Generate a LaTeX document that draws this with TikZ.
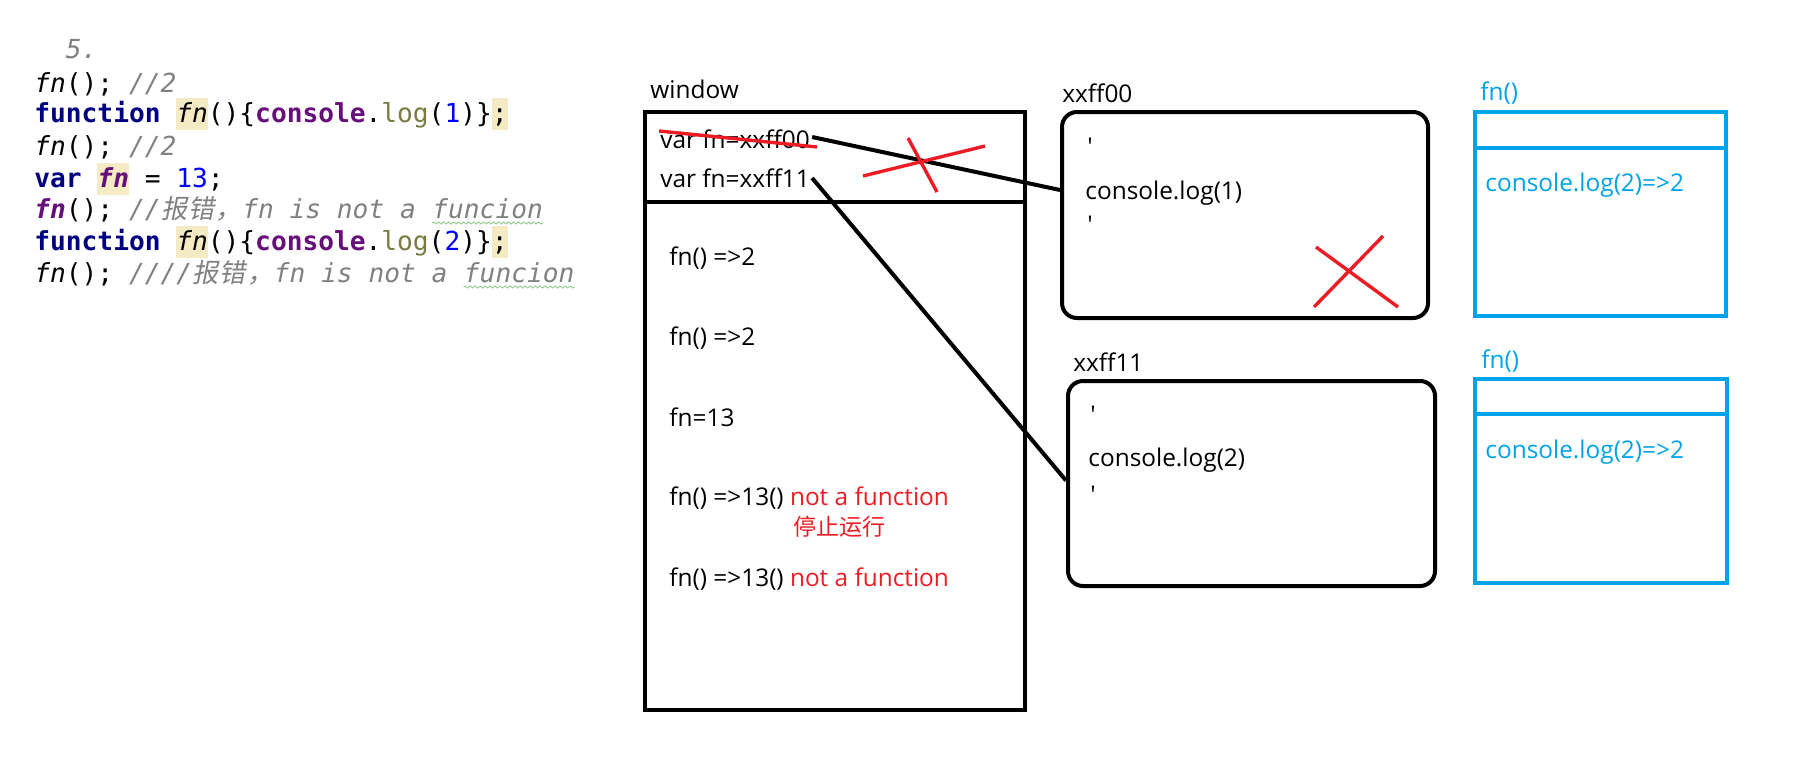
\documentclass[tikz,border=0pt]{standalone}
\usepackage{fontspec}
\usetikzlibrary{decorations.pathmorphing}
\setmainfont{Open Sans}
\newfontfamily\codefont{DejaVu Sans Mono}
\newfontfamily\cjk{Noto Sans CJK SC}
\newfontfamily\cjkit[FakeSlant=0.2]{Noto Sans CJK SC}
\definecolor{kw}{HTML}{000080}
\definecolor{pu}{HTML}{660E7A}
\definecolor{ol}{HTML}{7A7A43}
\definecolor{nb}{HTML}{0000FF}
\definecolor{cm}{HTML}{808080}
\definecolor{hl}{HTML}{F4EAC4}
\definecolor{sq}{HTML}{9ACD9A}
\definecolor{pred}{HTML}{ED1C24}
\definecolor{pblue}{HTML}{00A2E8}
\newcommand{\hlbox}[1]{{\setlength{\fboxsep}{0pt}\colorbox{hl}{\rule[-4pt]{0pt}{16pt}#1}}}
\newcommand{\cj}[1]{\makebox[1.04em][c]{\cjkit #1}}
\tikzset{
  codeline/.style={anchor=base west, inner sep=0pt, font=\codefont\fontsize{13.1pt}{16pt}\selectfont},
  lbl/.style={anchor=west, inner sep=0pt, font=\fontsize{12.2pt}{14pt}\selectfont},
  blbl/.style={lbl, text=pblue},
  memline/.style={line width=2pt},
  membox/.style={draw, line width=2pt, rounded corners=7.5pt},
  fnbox/.style={draw=pblue, line width=2pt},
  cross/.style={draw=pred, line width=1.7pt},
  squig/.style={draw=sq, line width=0.5pt, decorate, decoration={snake, amplitude=0.5pt, segment length=2.5pt}}
}
\begin{document}
\begin{tikzpicture}[x=0.5pt, y=-0.5pt]
\useasboundingbox (0,0) rectangle (1802,756);
% ---------- code ----------
\node[codeline] (c0) at (34,58) {\ \ \textcolor{cm}{\textit{5.}}};
\node[codeline] (c1) at (34,92) {\textit{fn}();\ \textcolor{cm}{\textit{//2}}};
\node[codeline] (c2) at (34,122) {\textcolor{kw}{\textbf{function}}\ \hlbox{\textit{fn}}()\{\textcolor{pu}{\textbf{console}}.\textcolor{ol}{log}(\textcolor{nb}{1})\}\hlbox{;}};
\node[codeline] (c3) at (34,155) {\textit{fn}();\ \textcolor{cm}{\textit{//2}}};
\node[codeline] (c4) at (34,187) {\textcolor{kw}{\textbf{var}}\ \hlbox{\textcolor{pu}{\textbf{\textit{fn}}}}\ =\ \textcolor{nb}{13};};
\node[codeline] (c5) at (34,218) {\textcolor{pu}{\textbf{\textit{fn}}}();\ \textcolor{cm}{\textit{//\cj{报}\cj{错}\cj{，}fn is not a\ }}};
\node[codeline, text=cm] (c5u) at (c5.base east) {\textit{funcion}};
\node[codeline] (c6) at (34,250) {\textcolor{kw}{\textbf{function}}\ \hlbox{\textit{fn}}()\{\textcolor{pu}{\textbf{console}}.\textcolor{ol}{log}(\textcolor{nb}{2})\}\hlbox{;}};
\node[codeline] (c7) at (34,282) {\textit{fn}();\ \textcolor{cm}{\textit{////\cj{报}\cj{错}\cj{，}fn is not a\ }}};
\node[codeline, text=cm] (c7u) at (c7.base east) {\textit{funcion}};
\draw[squig] ([yshift=-2.5pt]c5u.base west) -- ([yshift=-2.5pt]c5u.base east);
\draw[squig] ([yshift=-2.5pt]c7u.base west) -- ([yshift=-2.5pt]c7u.base east);
% ---------- window ----------
\node[lbl] (wl) at (650,89) {window};
\node[draw, line width=2pt, minimum width=190pt, minimum height=299pt, inner sep=0pt] (win) at (835,411) {};
\draw[memline] ([yshift=-46pt]win.north west) -- ([yshift=-46pt]win.north east);
\node[lbl] (v00) at (660,139) {var fn=xxff00};
\node[lbl] (v11) at (660,178) {var fn=xxff11};
\node[lbl] (w1) at (669,258) {fn() =>2};
\node[lbl] (w2) at (669,338) {fn() =>2};
\node[lbl] (w3) at (669,417) {fn=13};
\node[lbl] (w4) at (669,498) {fn() =>13() \textcolor{pred}{not a function}};
\node[lbl, text=pred, font=\cjk\fontsize{11.5pt}{14pt}\selectfont] (w4b) at (793,527) {停止运行};
\node[lbl] (w5) at (669,579) {fn() =>13() \textcolor{pred}{not a function}};
% ---------- heap boxes ----------
\node[lbl] (l00) at (1062,93) {xxff00};
\node[membox, minimum width=183pt, minimum height=103pt] (b00) at (1245,215) {};
\node[lbl] (q1) at (1087,147) {\textquotesingle};
\node[lbl] (t00) at (1085,193) {console.log(1)};
\node[lbl] (q2) at (1087,225) {\textquotesingle};
\node[lbl] (l11) at (1073,362) {xxff11};
\node[membox, minimum width=183.5pt, minimum height=102.5pt] (b11) at (1251.5,483.5) {};
\node[lbl] (q3) at (1090,415) {\textquotesingle};
\node[lbl] (t11) at (1088,460) {console.log(2)};
\node[lbl] (q4) at (1090,495) {\textquotesingle};
% ---------- blue fn boxes ----------
\node[blbl] (lf1) at (1480,93) {fn()};
\node[fnbox, minimum width=125.5pt, minimum height=102pt] (f1) at (1600.5,214) {};
\draw[draw=pblue, line width=2pt] ([yshift=-19pt]f1.north west) -- ([yshift=-19pt]f1.north east);
\node[blbl] (tf1) at (1485,185) {console.log(2)=>2};
\node[blbl] (lf2) at (1481,361) {fn()};
\node[fnbox, minimum width=126pt, minimum height=102pt] (f2) at (1601,481) {};
\draw[draw=pblue, line width=2pt] ([yshift=-18.5pt]f2.north west) -- ([yshift=-18.5pt]f2.north east);
\node[blbl] (tf2) at (1485,452) {console.log(2)=>2};
% ---------- connectors ----------
\draw[memline] ([xshift=1pt,yshift=1pt]v00.east) -- ([yshift=12.5pt]b00.west);
\draw[memline] ([xshift=1pt]v11.east) -- ([yshift=1.5pt]b11.west);
% ---------- red marks ----------
\draw[cross] (659,131) -- (817,147);
\draw[cross] (863,176) -- (985,146);
\draw[cross] (908,138) -- (937,192);
\draw[cross] (1314,307) -- (1383,236);
\draw[cross] (1316,247) -- (1398,307);
\end{tikzpicture}
\end{document}
